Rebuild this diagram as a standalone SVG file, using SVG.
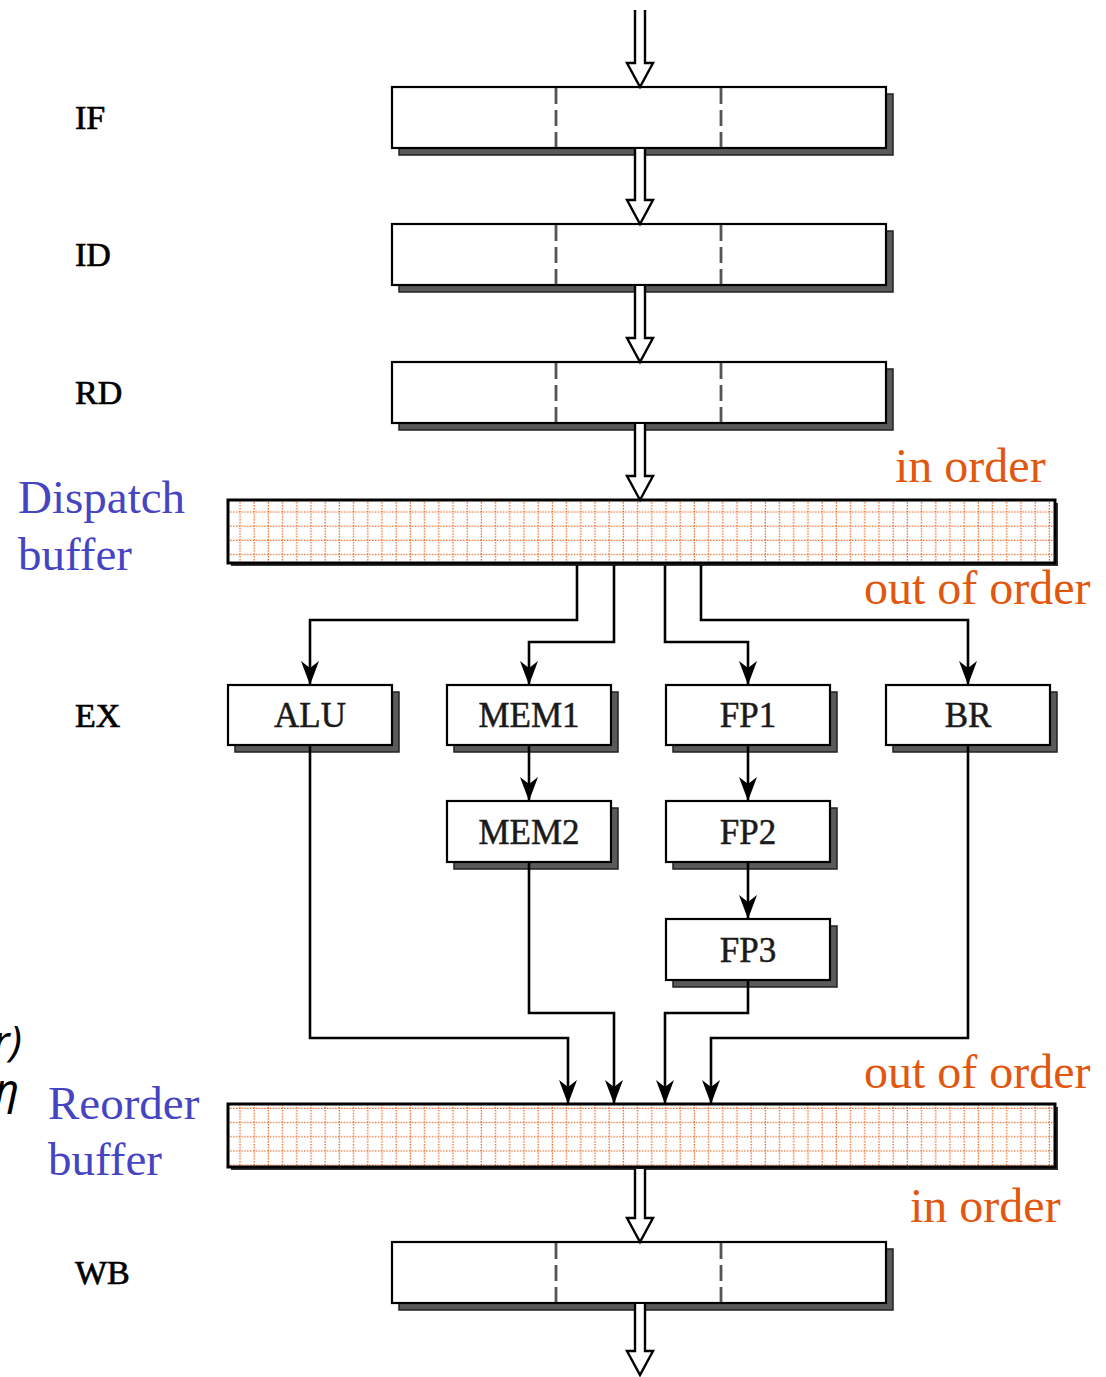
<svg xmlns="http://www.w3.org/2000/svg" width="1106" height="1377" viewBox="0 0 1106 1377">
<style>
.stage{fill:#fff;stroke:#000;stroke-width:2.2}
.shadow{fill:#5a5a5a;stroke:#222;stroke-width:1.5}
.dash{stroke:#555;stroke-width:2.8;stroke-dasharray:16 6}
.buf{fill:url(#grid);stroke:#000;stroke-width:3}
.bufsh{fill:#333}
.hollow{fill:#fff;stroke:#000;stroke-width:2.4;stroke-linejoin:miter}
.conn{fill:none;stroke:#000;stroke-width:2.6;marker-end:url(#ah)}
.lbl{font-family:"Liberation Serif","Times New Roman",serif;font-size:34px;fill:#000;stroke:#000;stroke-width:0.7}
.unit{font-family:"Liberation Serif","Times New Roman",serif;font-size:35px;fill:#1a1a1a;text-anchor:middle;stroke:#1a1a1a;stroke-width:0.5}
.blue{font-family:"Liberation Serif","Times New Roman",serif;font-size:47px;fill:#4545C2}
.org{font-family:"Liberation Serif","Times New Roman",serif;font-size:48px;fill:#E2570F}
.ital{font-family:"Noto Sans","DejaVu Sans",sans-serif;font-style:italic;font-size:42px;fill:#000;text-anchor:end}
</style>
<defs>
<pattern id="grid" patternUnits="userSpaceOnUse" x="233" y="505" width="14.2" height="14.2">
<rect width="14.2" height="14.2" fill="#fff"/>
<line x1="7" y1="0" x2="7" y2="14.2" stroke="#E8641E" stroke-width="1.3" stroke-dasharray="1.4 1.44"/>
<line x1="0" y1="7" x2="14.2" y2="7" stroke="#E8641E" stroke-width="1.3" stroke-dasharray="1.4 1.44"/>
</pattern>
<marker id="ah" markerUnits="userSpaceOnUse" viewBox="0 0 24 18" refX="24" refY="9" markerWidth="24" markerHeight="18" orient="auto">
<path d="M0,0 L24,9 L0,18 L7,9 Z" fill="#000"/>
</marker>
</defs>

<g id="IF">
<rect class="shadow" x="399" y="94" width="494" height="61"/>
<rect class="stage" x="392" y="87" width="494" height="61"/>
<line class="dash" x1="556" y1="88" x2="556" y2="147"/>
<line class="dash" x1="721" y1="88" x2="721" y2="147"/>
<text class="lbl" x="75" y="129">IF</text>
</g>
<g id="ID">
<rect class="shadow" x="399" y="231" width="494" height="61"/>
<rect class="stage" x="392" y="224" width="494" height="61"/>
<line class="dash" x1="556" y1="225" x2="556" y2="284"/>
<line class="dash" x1="721" y1="225" x2="721" y2="284"/>
<text class="lbl" x="75" y="266">ID</text>
</g>
<g id="RD">
<rect class="shadow" x="399" y="369" width="494" height="61"/>
<rect class="stage" x="392" y="362" width="494" height="61"/>
<line class="dash" x1="556" y1="363" x2="556" y2="422"/>
<line class="dash" x1="721" y1="363" x2="721" y2="422"/>
<text class="lbl" x="75" y="404">RD</text>
</g>
<g id="dispatch">
<rect class="bufsh" x="231" y="503" width="827" height="63"/>
<rect class="buf" x="228" y="500" width="827" height="63"/>
<text class="blue" x="18" y="513">Dispatch</text>
<text class="blue" x="18" y="570">buffer</text>
<text class="org" x="895" y="482">in order</text>
<text class="org" x="864" y="604">out of order</text>
</g>
<text class="lbl" x="75" y="727">EX</text>
<g id="ALU">
<rect class="shadow" x="235" y="692" width="164" height="60"/>
<rect class="stage" x="228" y="685" width="164" height="60"/>
<text class="unit" x="310" y="727">ALU</text>
</g>
<g id="MEM1">
<rect class="shadow" x="454" y="692" width="164" height="60"/>
<rect class="stage" x="447" y="685" width="164" height="60"/>
<text class="unit" x="529" y="727">MEM1</text>
</g>
<g id="FP1">
<rect class="shadow" x="673" y="692" width="164" height="60"/>
<rect class="stage" x="666" y="685" width="164" height="60"/>
<text class="unit" x="748" y="727">FP1</text>
</g>
<g id="BR">
<rect class="shadow" x="893" y="692" width="164" height="60"/>
<rect class="stage" x="886" y="685" width="164" height="60"/>
<text class="unit" x="968" y="727">BR</text>
</g>
<g id="MEM2">
<rect class="shadow" x="454" y="808" width="164" height="61"/>
<rect class="stage" x="447" y="801" width="164" height="61"/>
<text class="unit" x="529" y="844">MEM2</text>
</g>
<g id="FP2">
<rect class="shadow" x="673" y="808" width="164" height="61"/>
<rect class="stage" x="666" y="801" width="164" height="61"/>
<text class="unit" x="748" y="844">FP2</text>
</g>
<g id="FP3">
<rect class="shadow" x="673" y="926" width="164" height="61"/>
<rect class="stage" x="666" y="919" width="164" height="61"/>
<text class="unit" x="748" y="962">FP3</text>
</g>
<g id="reorder">
<rect class="bufsh" x="231" y="1107" width="827" height="63"/>
<rect class="buf" x="228" y="1104" width="827" height="63"/>
<text class="blue" x="48" y="1119">Reorder</text>
<text class="blue" x="48" y="1175">buffer</text>
<text class="org" x="864" y="1088">out of order</text>
<text class="org" x="910" y="1222">in order</text>
</g>
<g id="WB">
<rect class="shadow" x="399" y="1249" width="494" height="61"/>
<rect class="stage" x="392" y="1242" width="494" height="61"/>
<line class="dash" x1="556" y1="1243" x2="556" y2="1302"/>
<line class="dash" x1="721" y1="1243" x2="721" y2="1302"/>
<text class="lbl" x="75" y="1284">WB</text>
</g>
<g id="cutoff-text">
<text class="ital" x="22" y="1056">r)</text>
<text class="ital" x="19" y="1104">η</text>
</g>

<g id="connectors">
<path class="hollow" d="M635,10 V63 H627 L640,87 L653,63 H645 V10"/>
<path class="hollow" d="M635,149 V200 H627 L640,224 L653,200 H645 V149"/>
<path class="hollow" d="M635,286 V338 H627 L640,362 L653,338 H645 V286"/>
<path class="hollow" d="M635,424 V476 H627 L640,500 L653,476 H645 V424"/>
<path class="hollow" d="M635,1169 V1218 H627 L640,1242 L653,1218 H645 V1169"/>
<path class="hollow" d="M635,1304 V1351 H627 L640,1375 L653,1351 H645 V1304"/>
<path class="conn" d="M577,565 V620 H310 V685"/>
<path class="conn" d="M614,565 V642 H529 V685"/>
<path class="conn" d="M665,565 V642 H748 V685"/>
<path class="conn" d="M701,565 V620 H968 V685"/>
<path class="conn" d="M529,746 V801"/>
<path class="conn" d="M748,746 V801"/>
<path class="conn" d="M748,863 V919"/>
<path class="conn" d="M310,746 V1038 H568 V1104"/>
<path class="conn" d="M529,863 V1013 H614 V1104"/>
<path class="conn" d="M748,981 V1013 H665 V1104"/>
<path class="conn" d="M968,746 V1038 H711 V1104"/>
</g>
</svg>
